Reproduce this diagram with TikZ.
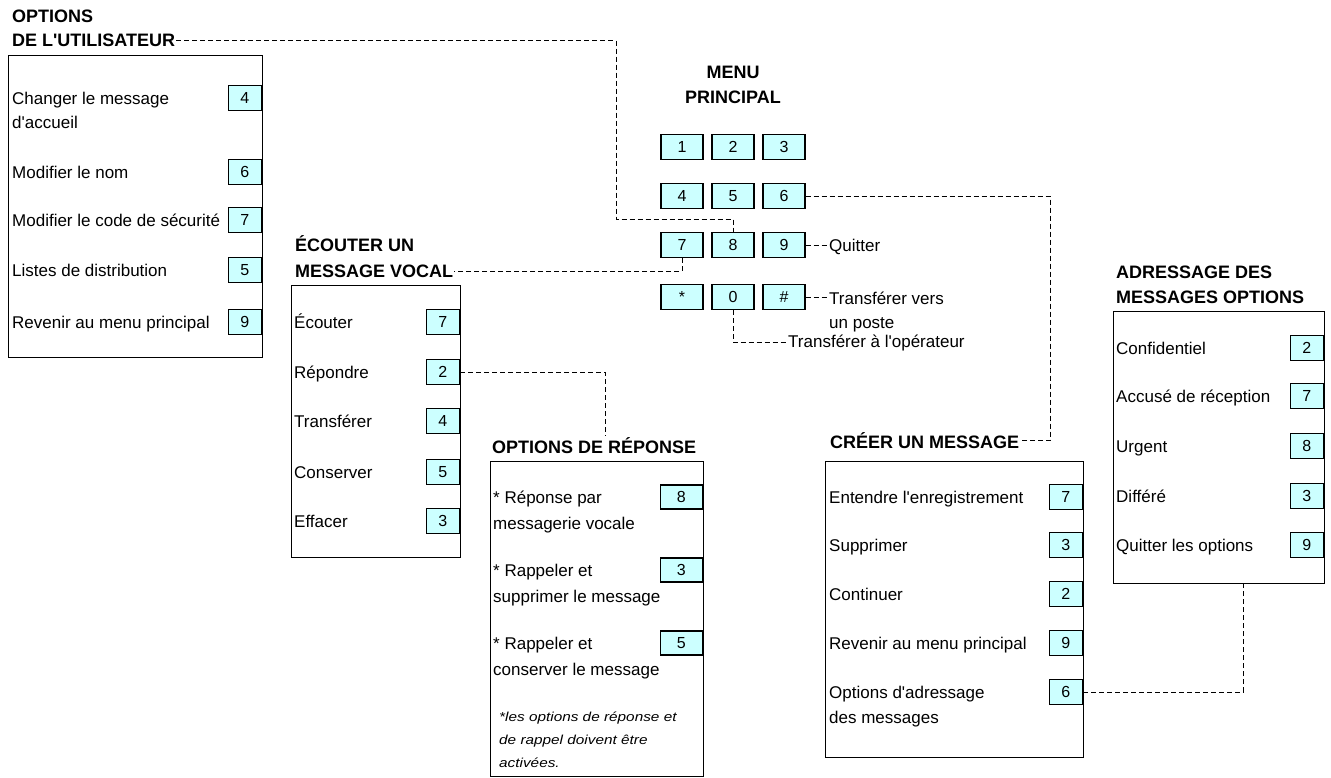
\documentclass[tikz,border=0pt]{standalone}
\usepackage{fontspec}
\setmainfont{Liberation Sans}
\newfontfamily\notefont[FakeStretch=1.18]{Liberation Sans}
\usetikzlibrary{calc}
\definecolor{keycyan}{HTML}{CCFFFF}
\newcommand{\apo}{\textquotesingle}
\tikzset{
  keybox/.style={draw=black, line width=1.2pt, fill=keycyan, minimum width=33pt, minimum height=25pt, inner sep=0pt, font=\fontsize{16}{16}\selectfont},
  menukey/.style={keybox, minimum width=42pt, minimum height=25pt},
  widekey/.style={keybox, minimum width=42pt, minimum height=24pt},
  panel/.style={draw=black, line width=1pt, anchor=north west, inner sep=0pt},
  lbl/.style={anchor=base west, inner sep=1pt, font=\fontsize{17}{17}\selectfont},
  head/.style={anchor=base west, inner sep=1pt, font=\bfseries\fontsize{18}{18}\selectfont},
  headc/.style={anchor=base, inner sep=1pt, font=\bfseries\fontsize{18}{18}\selectfont},
  conn/.style={draw=black, line width=1pt, dash pattern=on 5pt off 3pt},
  note/.style={anchor=base west, inner sep=0pt, font=\notefont\itshape\fontsize{13}{13}\selectfont},
}
\begin{document}
\begin{tikzpicture}[x=1pt,y=-1pt]
\useasboundingbox[fill=white] (0,0) rectangle (1331,777);

% ---------- OPTIONS DE L'UTILISATEUR ----------
\node[head] (uh1) at (11,22.5) {OPTIONS};
\node[head] (uh2) at (11,46.5) {DE L\apo UTILISATEUR};
\node[panel, minimum width=254pt, minimum height=302pt] (ubox) at (8,55) {};
\node[keybox, anchor=east] (u4) at (262,98) {4};
\node[lbl] (ut4a) at (11,104) {Changer le message};
\node[lbl] (ut4b) at (11,128) {d\apo accueil};
\node[keybox, anchor=east] (u6) at (262,172) {6};
\node[lbl] (ut6) at (11,178) {Modifier le nom};
\node[keybox, anchor=east] (u7) at (262,220) {7};
\node[lbl] (ut7) at (11,226) {Modifier le code de sécurité};
\node[keybox, anchor=east] (u5) at (262,270) {5};
\node[lbl] (ut5) at (11,276) {Listes de distribution};
\node[keybox, anchor=east] (u9) at (262,322) {9};
\node[lbl] (ut9) at (11,328) {Revenir au menu principal};

% ---------- MENU PRINCIPAL ----------
\node[headc] (mp1) at (733,78.5) {MENU};
\node[headc] (mp2) at (733,103.5) {PRINCIPAL};
\node[menukey] (k1) at (682,147) {1};
\node[menukey] (k2) at (733,147) {2};
\node[menukey] (k3) at (784,147) {3};
\node[menukey] (k4) at (682,196) {4};
\node[menukey] (k5) at (733,196) {5};
\node[menukey] (k6) at (784,196) {6};
\node[menukey] (k7) at (682,245) {7};
\node[menukey] (k8) at (733,245) {8};
\node[menukey] (k9) at (784,245) {9};
\node[menukey] (kstar) at (682,297) {*};
\node[menukey] (k0) at (733,297) {0};
\node[menukey] (khash) at (784,297) {\#};
\node[lbl] (quit) at (828,251) {Quitter};
\node[lbl] (tv1) at (828,304) {Transférer vers};
\node[lbl] (tv2) at (828,328) {un poste};
\node[lbl] (op) at (787,347) {Transférer à l\apo opérateur};

% ---------- ÉCOUTER UN MESSAGE VOCAL ----------
\node[head] (mh1) at (294,251.5) {ÉCOUTER UN};
\node[head] (mh2) at (294,277.5) {MESSAGE VOCAL};
\node[panel, minimum width=169pt, minimum height=272pt] (ebox) at (291,285) {};
\node[keybox, anchor=east] (e7) at (460,322) {7};
\node[lbl] (et7) at (293,328) {Écouter};
\node[keybox, anchor=east] (e2) at (460,372) {2};
\node[lbl] (et2) at (293,378) {Répondre};
\node[keybox, anchor=east] (e4) at (460,421) {4};
\node[lbl] (et4) at (293,427) {Transférer};
\node[keybox, anchor=east] (e5) at (460,472) {5};
\node[lbl] (et5) at (293,478) {Conserver};
\node[keybox, anchor=east] (e3) at (460,521) {3};
\node[lbl] (et3) at (293,527) {Effacer};

% ---------- OPTIONS DE RÉPONSE ----------
\node[head] (rh) at (491,453.5) {OPTIONS DE RÉPONSE};
\node[panel, minimum width=213pt, minimum height=315pt] (rbox) at (490,461) {};
\node[widekey, anchor=east] (r8) at (703,497) {8};
\node[lbl] (rt8a) at (492,503) {* Réponse par};
\node[lbl] (rt8b) at (492,529) {messagerie vocale};
\node[widekey, anchor=east] (r3) at (703,570) {3};
\node[lbl] (rt3a) at (492,576) {* Rappeler et};
\node[lbl] (rt3b) at (492,602) {supprimer le message};
\node[widekey, anchor=east] (r5) at (703,643) {5};
\node[lbl] (rt5a) at (492,649) {* Rappeler et};
\node[lbl] (rt5b) at (492,675) {conserver le message};
\node[note] (rn1) at (499,721) {*les options de réponse et};
\node[note] (rn2) at (499,744) {de rappel doivent être};
\node[note] (rn3) at (499,767) {activées.};

% ---------- CRÉER UN MESSAGE ----------
\node[head] (ch) at (829,448.5) {CRÉER UN MESSAGE};
\node[panel, minimum width=258pt, minimum height=296pt] (cbox) at (825,461) {};
\node[keybox, anchor=east] (c7) at (1083,497) {7};
\node[lbl] (ct7) at (828,503) {Entendre l\apo enregistrement};
\node[keybox, anchor=east] (c3) at (1083,545) {3};
\node[lbl] (ct3) at (828,551) {Supprimer};
\node[keybox, anchor=east] (c2) at (1083,594) {2};
\node[lbl] (ct2) at (828,600) {Continuer};
\node[keybox, anchor=east] (c9) at (1083,643) {9};
\node[lbl] (ct9) at (828,649) {Revenir au menu principal};
\node[keybox, anchor=east] (c6) at (1083,692) {6};
\node[lbl] (ct6a) at (828,698) {Options d\apo adressage};
\node[lbl] (ct6b) at (828,723) {des messages};

% ---------- ADRESSAGE DES MESSAGES OPTIONS ----------
\node[head] (ah1) at (1115,278.5) {ADRESSAGE DES};
\node[head] (ah2) at (1115,303.5) {MESSAGES OPTIONS};
\node[panel, minimum width=211pt, minimum height=272pt] (abox) at (1113,311) {};
\node[keybox, anchor=east] (a2) at (1324,348) {2};
\node[lbl] (at2) at (1115,354) {Confidentiel};
\node[keybox, anchor=east] (a7) at (1324,396) {7};
\node[lbl] (at7) at (1115,402) {Accusé de réception};
\node[keybox, anchor=east] (a8) at (1324,446) {8};
\node[lbl] (at8) at (1115,452) {Urgent};
\node[keybox, anchor=east] (a3) at (1324,496) {3};
\node[lbl] (at3) at (1115,502) {Différé};
\node[keybox, anchor=east] (a9) at (1324,545) {9};
\node[lbl] (at9) at (1115,551) {Quitter les options};

% ---------- connectors ----------
\coordinate (uturn) at (616,219);
\coordinate (kturn) at (1050,0);
\coordinate (rturn) at (605,0);
\coordinate (aturn) at (1243,0);
\draw[conn] (uh2.east) -| (uturn) -| (k8.north);
\draw[conn] (k7.south) |- (mh2.east);
\draw[conn] (k6.east) -| (kturn |- ch.east) -- (ch.east);
\draw[conn] (k9.east) -- (k9.east -| quit.west);
\draw[conn] (khash.east) -- (khash.east -| tv1.west);
\draw[conn] (k0.south) |- (op.west);
\draw[conn] (e2.east) -| (rturn |- rh.north);
\draw[conn] (c6.east) -| (aturn |- abox.south);
\end{tikzpicture}
\end{document}
